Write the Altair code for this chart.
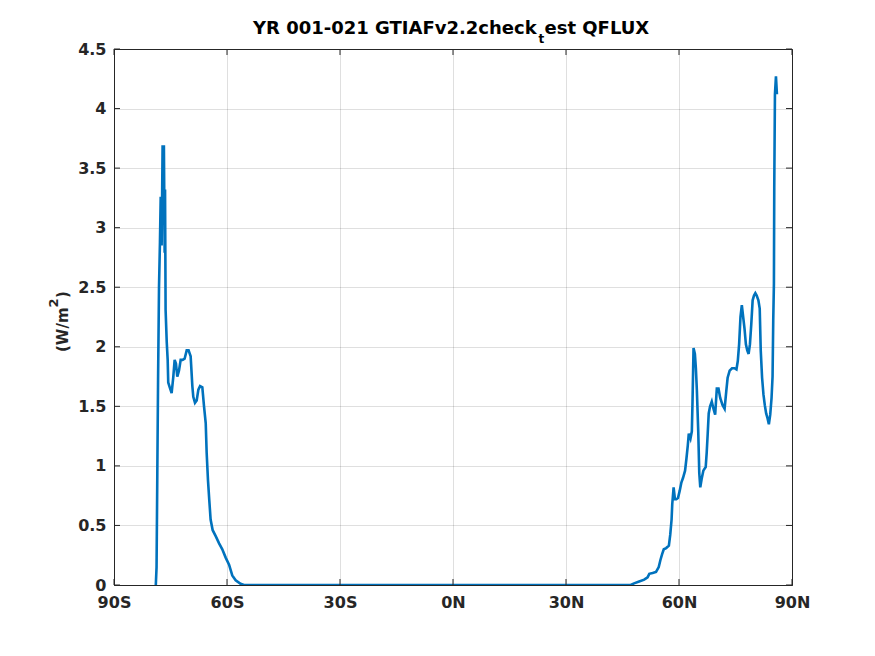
import altair as alt
import pandas as pd

# Southern hemisphere readings
lat_s = [-78.9, -78.7, -78.5, -78.3, -78.05, -77.8, -77.6, -77.35, -77.1, -76.75,
         -76.55, -76.45, -76.3, -76.0, -75.75, -75.6, -75.2, -74.7, -74.25, -73.9,
         -73.55, -73.2, -72.75, -72.3, -71.8, -71.25, -70.7, -70.2, -69.65, -69.2,
         -68.95, -68.5, -68.05, -67.6, -67.15, -66.55, -66.1, -65.65, -65.4, -65.05,
         -64.7, -64.35, -63.8, -63.0, -62.1, -61.25, -60.35, -59.45, -58.6, -57.7,
         -56.4, -55.5]
val_s = [0.0, 0.15, 0.94, 1.72, 2.5, 2.88, 3.26, 2.85, 3.68, 3.68,
         2.79, 3.32, 2.31, 2.04, 1.89, 1.70, 1.66, 1.61, 1.75, 1.89,
         1.86, 1.75, 1.80, 1.89, 1.89, 1.90, 1.97, 1.97, 1.92, 1.67,
         1.58, 1.53, 1.55, 1.64, 1.67, 1.66, 1.50, 1.36, 1.11, 0.88,
         0.71, 0.55, 0.46, 0.41, 0.35, 0.30, 0.23, 0.17, 0.08, 0.04,
         0.01, 0.0]

# Flat zero band
lat_z = [-50, -40, -30, -20, -10, 0, 10, 20, 30, 40, 45]
val_z = [0, 0, 0, 0, 0, 0, 0, 0, 0, 0, 0]

# Northern hemisphere readings
lat_n = [47.17, 48.07, 49.42, 50.76, 51.66, 52.11, 53.0, 53.9, 54.62, 55.07,
         55.52, 55.96, 56.59, 57.31, 57.67, 58.03, 58.21, 58.57, 58.92, 59.28,
         59.73, 60.18, 60.63, 61.08, 61.61, 61.97, 62.33, 62.6, 63.05, 63.41,
         63.59, 63.86, 64.22, 64.48, 64.75, 65.11, 65.38, 65.65, 66.01, 66.46,
         67.09, 67.35, 67.62, 67.89, 68.25, 68.7, 69.15, 69.6, 70.04, 70.49,
         70.94, 71.57, 72.11, 72.56, 72.91, 73.45, 74.08, 74.71, 75.25, 75.61,
         75.96, 76.32, 76.68, 77.04, 77.4, 77.76, 78.12, 78.48, 78.83, 79.19,
         79.55, 79.91, 80.27, 80.63, 81.08, 81.43, 81.7, 82.06, 82.42, 82.78,
         83.14, 83.5, 83.86, 84.22, 84.57, 84.84, 85.02, 85.2, 85.29, 85.47,
         85.74, 86.0]
val_n = [0.0, 0.014, 0.03, 0.045, 0.065, 0.094, 0.10, 0.11, 0.15, 0.21,
         0.26, 0.30, 0.31, 0.33, 0.42, 0.55, 0.68, 0.82, 0.72, 0.72,
         0.73, 0.79, 0.86, 0.90, 0.96, 1.06, 1.17, 1.27, 1.23, 1.29,
         1.54, 1.99, 1.94, 1.82, 1.63, 1.29, 0.94, 0.82, 0.89, 0.96,
         0.99, 1.11, 1.27, 1.44, 1.50, 1.54, 1.48, 1.43, 1.65, 1.65,
         1.57, 1.51, 1.48, 1.63, 1.74, 1.80, 1.82, 1.82, 1.81, 1.88,
         2.02, 2.25, 2.35, 2.25, 2.15, 2.02, 1.97, 1.94, 2.02, 2.19,
         2.39, 2.43, 2.45, 2.43, 2.39, 2.32, 1.97, 1.74, 1.60, 1.51,
         1.44, 1.40, 1.35, 1.43, 1.57, 1.75, 2.22, 2.53, 3.33, 4.12,
         4.27, 4.12]

x_ticks = [-90, -60, -30, 0, 30, 60, 90]
x_tick_labels = ["90S", "60S", "30S", "0N", "30N", "60N", "90N"]
y_ticks = [0, 0.5, 1, 1.5, 2, 2.5, 3, 3.5, 4, 4.5]

title_main = "YR 001-021 GTIAFv2.2check"
title_sub = "t"
title_rest = "est QFLUX"
y_title_main = "(W/m"
y_title_sup = "2"
y_title_end = ")"

W, H = 678, 536
INK = "#262626"
FONT = "DejaVu Sans"

df = pd.DataFrame({"lat": lat_s + lat_z + lat_n, "val": val_s + val_z + val_n})
df_xt = pd.DataFrame({"t": x_ticks})
df_yt = pd.DataFrame({"v": y_ticks})
one = pd.DataFrame({"a": [0]})

label_expr = "".join(
    f"datum.value == {v} ? '{l}' : " for v, l in zip(x_ticks, x_tick_labels)
) + "''"

xscale = alt.Scale(domain=[-90, 90], nice=False, zero=False)
yscale = alt.Scale(domain=[0, 4.5], nice=False)

x_axis = alt.Axis(values=x_ticks, labelExpr=label_expr, grid=True,
                  gridColor=INK, gridOpacity=0.15, ticks=False,
                  domainColor=INK, labelFont=FONT, labelFontWeight="bold",
                  labelFontSize=16, labelColor=INK, labelPadding=9,
                  labelFlush=False, labelOverlap=False)
y_axis = alt.Axis(values=y_ticks, format="~g", grid=True,
                  gridColor=INK, gridOpacity=0.15, ticks=False,
                  domainColor=INK, labelFont=FONT, labelFontWeight="bold",
                  labelFontSize=16, labelColor=INK, labelPadding=8,
                  labelFlush=False, labelOverlap=False)

line = alt.Chart(df).mark_line(color="#0072BD", strokeWidth=2.6, clip=True).encode(
    x=alt.X("lat:Q", scale=xscale, title=None, axis=x_axis),
    y=alt.Y("val:Q", scale=yscale, title=None, axis=y_axis),
    order="lat:Q",
)

tick_len = 6
xt_bottom = alt.Chart(df_xt).mark_rule(color=INK, strokeWidth=1).encode(
    x=alt.X("t:Q", scale=xscale, title=None, axis=x_axis),
    y=alt.value(H), y2=alt.value(H - tick_len))
xt_top = alt.Chart(df_xt).mark_rule(color=INK, strokeWidth=1).encode(
    x=alt.X("t:Q", scale=xscale, title=None, axis=x_axis),
    y=alt.value(0), y2=alt.value(tick_len))
yt_left = alt.Chart(df_yt).mark_rule(color=INK, strokeWidth=1).encode(
    y=alt.Y("v:Q", scale=yscale, title=None, axis=y_axis),
    x=alt.value(0), x2=alt.value(tick_len))
yt_right = alt.Chart(df_yt).mark_rule(color=INK, strokeWidth=1).encode(
    y=alt.Y("v:Q", scale=yscale, title=None, axis=y_axis),
    x=alt.value(W), x2=alt.value(W - tick_len))


def txt(s, x, y, size, angle=0, color="#000000"):
    return alt.Chart(one).mark_text(
        text=s, font=FONT, fontWeight="bold", fontSize=size, color=color,
        align="left", baseline="alphabetic", angle=angle,
    ).encode(x=alt.value(x), y=alt.value(y))


t1 = txt(title_main, 139, -15.5, 18)
t2 = txt(title_sub, 424.5, -6.3, 12)
t3 = txt(title_rest, 430.5, -15.5, 18)
y1 = txt(y_title_main, -45.7, 303, 15, angle=270, color=INK)
y2 = txt(y_title_sup, -56.5, 258.5, 13, angle=270, color=INK)
y3 = txt(y_title_end, -45.7, 249, 15, angle=270, color=INK)

chart = alt.layer(line, xt_bottom, xt_top, yt_left, yt_right,
                  t1, t2, t3, y1, y2, y3).properties(
    width=W, height=H,
    autosize=alt.AutoSizeParams(type="none"),
    padding={"left": 106, "top": 41, "right": 75, "bottom": 63},
    background="white",
).configure_view(stroke=INK, strokeWidth=1)

chart.save("out.html", embed_options={"renderer": "svg", "actions": False})
